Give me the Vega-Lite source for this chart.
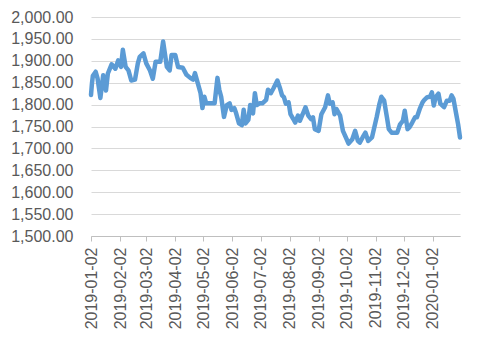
{
  "$schema": "https://vega.github.io/schema/vega-lite/v6.json",
  "width": 369,
  "height": 219,
  "autosize": {"type": "none"},
  "padding": {"left": 91, "top": 17, "right": 20, "bottom": 105},
  "background": "white",
  "config": {"view": {"stroke": null}, "font": "Liberation Sans"},
  "data": {"values": [
    {"date": "2019-01-02", "v": 1822}, {"date": "2019-01-03", "v": 1848}, {"date": "2019-01-04", "v": 1866},
    {"date": "2019-01-07", "v": 1875}, {"date": "2019-01-09", "v": 1860}, {"date": "2019-01-12", "v": 1815},
    {"date": "2019-01-15", "v": 1867}, {"date": "2019-01-18", "v": 1832}, {"date": "2019-01-20", "v": 1871},
    {"date": "2019-01-24", "v": 1892}, {"date": "2019-01-28", "v": 1882}, {"date": "2019-01-31", "v": 1901},
    {"date": "2019-02-03", "v": 1886}, {"date": "2019-02-05", "v": 1925}, {"date": "2019-02-08", "v": 1886},
    {"date": "2019-02-11", "v": 1878}, {"date": "2019-02-14", "v": 1855}, {"date": "2019-02-18", "v": 1857},
    {"date": "2019-02-21", "v": 1894}, {"date": "2019-02-23", "v": 1909}, {"date": "2019-02-27", "v": 1917},
    {"date": "2019-03-02", "v": 1894}, {"date": "2019-03-06", "v": 1878}, {"date": "2019-03-09", "v": 1859},
    {"date": "2019-03-12", "v": 1898}, {"date": "2019-03-17", "v": 1898}, {"date": "2019-03-20", "v": 1944},
    {"date": "2019-03-24", "v": 1886}, {"date": "2019-03-27", "v": 1878}, {"date": "2019-03-29", "v": 1913},
    {"date": "2019-04-02", "v": 1913}, {"date": "2019-04-05", "v": 1886}, {"date": "2019-04-10", "v": 1884},
    {"date": "2019-04-14", "v": 1868}, {"date": "2019-04-18", "v": 1861}, {"date": "2019-04-21", "v": 1857},
    {"date": "2019-04-23", "v": 1872}, {"date": "2019-04-26", "v": 1849}, {"date": "2019-04-29", "v": 1826},
    {"date": "2019-05-01", "v": 1792}, {"date": "2019-05-03", "v": 1818}, {"date": "2019-05-05", "v": 1803},
    {"date": "2019-05-11", "v": 1803}, {"date": "2019-05-14", "v": 1803}, {"date": "2019-05-17", "v": 1861},
    {"date": "2019-05-19", "v": 1834}, {"date": "2019-05-21", "v": 1818}, {"date": "2019-05-24", "v": 1772},
    {"date": "2019-05-27", "v": 1799}, {"date": "2019-05-30", "v": 1803}, {"date": "2019-06-01", "v": 1788},
    {"date": "2019-06-04", "v": 1792}, {"date": "2019-06-06", "v": 1780}, {"date": "2019-06-09", "v": 1757},
    {"date": "2019-06-12", "v": 1753}, {"date": "2019-06-14", "v": 1788}, {"date": "2019-06-16", "v": 1757},
    {"date": "2019-06-19", "v": 1765}, {"date": "2019-06-21", "v": 1799}, {"date": "2019-06-24", "v": 1780},
    {"date": "2019-06-26", "v": 1826}, {"date": "2019-06-28", "v": 1799}, {"date": "2019-07-01", "v": 1803},
    {"date": "2019-07-04", "v": 1803}, {"date": "2019-07-08", "v": 1811}, {"date": "2019-07-10", "v": 1834},
    {"date": "2019-07-13", "v": 1826}, {"date": "2019-07-16", "v": 1838}, {"date": "2019-07-20", "v": 1855},
    {"date": "2019-07-23", "v": 1836}, {"date": "2019-07-25", "v": 1821}, {"date": "2019-07-27", "v": 1817},
    {"date": "2019-07-29", "v": 1802}, {"date": "2019-08-01", "v": 1805}, {"date": "2019-08-03", "v": 1778},
    {"date": "2019-08-06", "v": 1767}, {"date": "2019-08-08", "v": 1759}, {"date": "2019-08-11", "v": 1775},
    {"date": "2019-08-13", "v": 1763}, {"date": "2019-08-16", "v": 1778}, {"date": "2019-08-19", "v": 1794},
    {"date": "2019-08-22", "v": 1775}, {"date": "2019-08-25", "v": 1767}, {"date": "2019-08-27", "v": 1771},
    {"date": "2019-08-29", "v": 1744}, {"date": "2019-09-02", "v": 1740}, {"date": "2019-09-05", "v": 1778},
    {"date": "2019-09-09", "v": 1794}, {"date": "2019-09-12", "v": 1821}, {"date": "2019-09-14", "v": 1802},
    {"date": "2019-09-17", "v": 1805}, {"date": "2019-09-19", "v": 1778}, {"date": "2019-09-21", "v": 1790},
    {"date": "2019-09-25", "v": 1775}, {"date": "2019-09-28", "v": 1740}, {"date": "2019-10-02", "v": 1721},
    {"date": "2019-10-04", "v": 1711}, {"date": "2019-10-08", "v": 1721}, {"date": "2019-10-11", "v": 1740},
    {"date": "2019-10-14", "v": 1717}, {"date": "2019-10-16", "v": 1713}, {"date": "2019-10-19", "v": 1725},
    {"date": "2019-10-22", "v": 1736}, {"date": "2019-10-25", "v": 1717}, {"date": "2019-10-29", "v": 1725},
    {"date": "2019-11-03", "v": 1771}, {"date": "2019-11-06", "v": 1802}, {"date": "2019-11-08", "v": 1818},
    {"date": "2019-11-11", "v": 1809}, {"date": "2019-11-14", "v": 1771}, {"date": "2019-11-16", "v": 1744},
    {"date": "2019-11-19", "v": 1736}, {"date": "2019-11-22", "v": 1736}, {"date": "2019-11-25", "v": 1736},
    {"date": "2019-11-28", "v": 1755}, {"date": "2019-12-01", "v": 1763}, {"date": "2019-12-03", "v": 1786},
    {"date": "2019-12-06", "v": 1744}, {"date": "2019-12-08", "v": 1748}, {"date": "2019-12-11", "v": 1759},
    {"date": "2019-12-14", "v": 1771}, {"date": "2019-12-16", "v": 1771}, {"date": "2019-12-19", "v": 1790},
    {"date": "2019-12-22", "v": 1805}, {"date": "2019-12-24", "v": 1811}, {"date": "2019-12-27", "v": 1817},
    {"date": "2019-12-30", "v": 1818}, {"date": "2020-01-01", "v": 1828}, {"date": "2020-01-03", "v": 1798},
    {"date": "2020-01-05", "v": 1817}, {"date": "2020-01-08", "v": 1825}, {"date": "2020-01-10", "v": 1802},
    {"date": "2020-01-14", "v": 1794}, {"date": "2020-01-17", "v": 1809}, {"date": "2020-01-20", "v": 1809},
    {"date": "2020-01-22", "v": 1821}, {"date": "2020-01-24", "v": 1813}, {"date": "2020-01-27", "v": 1778},
    {"date": "2020-01-29", "v": 1755}, {"date": "2020-01-31", "v": 1725}
  ]},
  "mark": {"type": "line", "color": "#5B9BD5", "strokeWidth": 4.5, "strokeJoin": "round", "strokeCap": "round"},
  "encoding": {
    "x": {
      "field": "date", "type": "temporal",
      "scale": {"type": "utc", "domain": [
        {"year": 2019, "month": 1, "date": 2, "utc": true},
        {"year": 2020, "month": 1, "date": 31, "utc": true}
      ]},
      "axis": {
        "title": null,
        "values": [
          {"year": 2019, "month": 1, "date": 2, "utc": true},
          {"year": 2019, "month": 2, "date": 2, "utc": true},
          {"year": 2019, "month": 3, "date": 2, "utc": true},
          {"year": 2019, "month": 4, "date": 2, "utc": true},
          {"year": 2019, "month": 5, "date": 2, "utc": true},
          {"year": 2019, "month": 6, "date": 2, "utc": true},
          {"year": 2019, "month": 7, "date": 2, "utc": true},
          {"year": 2019, "month": 8, "date": 2, "utc": true},
          {"year": 2019, "month": 9, "date": 2, "utc": true},
          {"year": 2019, "month": 10, "date": 2, "utc": true},
          {"year": 2019, "month": 11, "date": 2, "utc": true},
          {"year": 2019, "month": 12, "date": 2, "utc": true},
          {"year": 2020, "month": 1, "date": 2, "utc": true}
        ],
        "format": "%Y-%m-%d",
        "labelAngle": 270,
        "labelAlign": "right",
        "labelBaseline": "middle",
        "labelFontSize": 16,
        "labelColor": "#595959",
        "labelPadding": 6,
        "labelFlush": false,
        "labelOverlap": false,
        "tickSize": 5,
        "tickColor": "#BFBFBF",
        "domainColor": "#BFBFBF",
        "grid": false
      }
    },
    "y": {
      "field": "v", "type": "quantitative",
      "scale": {"domain": [1500, 2000], "nice": false, "zero": false},
      "axis": {
        "title": null,
        "values": [1500, 1550, 1600, 1650, 1700, 1750, 1800, 1850, 1900, 1950, 2000],
        "format": ",.2f",
        "labelFontSize": 16,
        "labelColor": "#595959",
        "labelPadding": 18,
        "ticks": false,
        "domain": false,
        "grid": true,
        "gridColor": "#D9D9D9",
        "gridWidth": 1
      }
    }
  }
}
